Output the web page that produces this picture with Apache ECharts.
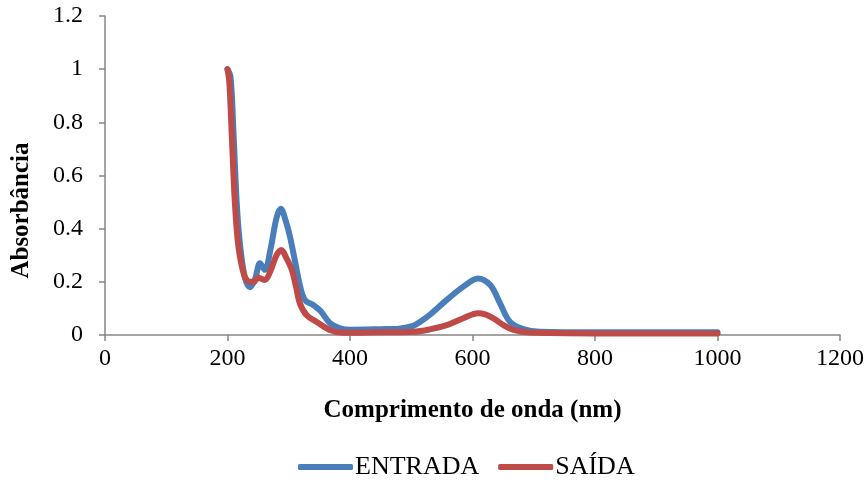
<!DOCTYPE html>
<html>
<head>
<meta charset="utf-8">
<script src="https://cdn.jsdelivr.net/npm/echarts@6/dist/echarts.min.js"></script>
<style>
  html, body { margin: 0; padding: 0; background: #fff; }
  #chart { width: 867px; height: 483px; }
</style>
</head>
<body>
<div id="chart"></div>
<script>
// comprimento de onda (nm) e absorbancia
var entradaX = [200, 205, 210, 215, 220, 228, 237, 245, 253, 261, 270, 280, 287, 295, 302, 310, 320, 327, 340, 352, 367, 384, 400, 450, 480, 503, 516, 531, 558, 585, 609, 629, 645, 661, 683, 710, 800, 900, 1000];
var entradaY = [1.0, 0.97, 0.75, 0.5, 0.35, 0.22, 0.18, 0.21, 0.27, 0.245, 0.32, 0.44, 0.475, 0.43, 0.37, 0.28, 0.17, 0.13, 0.113, 0.09, 0.045, 0.025, 0.02, 0.022, 0.024, 0.034, 0.052, 0.077, 0.132, 0.182, 0.213, 0.188, 0.119, 0.05, 0.022, 0.012, 0.01, 0.01, 0.01];

var saidaX = [200, 203, 207, 212, 218, 228, 237, 243, 250, 261, 270, 280, 288, 296, 305, 312, 318, 329, 345, 367, 389, 450, 503, 530, 558, 585, 609, 622, 634, 650, 667, 694, 800, 1000];
var saidaY = [1.0, 0.95, 0.75, 0.5, 0.33, 0.22, 0.2, 0.2, 0.215, 0.207, 0.24, 0.3, 0.32, 0.29, 0.245, 0.18, 0.12, 0.075, 0.05, 0.019, 0.008, 0.01, 0.012, 0.021, 0.037, 0.063, 0.082, 0.077, 0.063, 0.038, 0.019, 0.009, 0.006, 0.006];

var seriesNames = ['ENTRADA', 'SAÍDA'];

function pares(xs, ys) {
    var out = [];
    for (var i = 0; i < xs.length; i++) {
        out.push([xs[i], ys[i]]);
    }
    return out;
}

var fonte = '"Liberation Serif", "Times New Roman", serif';
var chart = echarts.init(document.getElementById('chart'));

var option = {
    animation: false,
    textStyle: { fontFamily: fonte },
    color: ['#4a7ebb', '#be4b48'],
    grid: { left: 105, right: 27, top: 16, bottom: 148, containLabel: false },
    xAxis: {
        type: 'value',
        min: 0, max: 1200, interval: 200,
        name: 'Comprimento de onda (nm)',
        nameLocation: 'middle',
        nameGap: 63,
        nameTextStyle: { fontFamily: fonte, fontSize: 25, fontWeight: 'bold', color: '#000' },
        axisLine: { onZero: false, lineStyle: { color: '#868686', width: 1.5 } },
        axisTick: { show: true, inside: false, length: 6, lineStyle: { color: '#868686', width: 1.5 } },
        axisLabel: {
            fontFamily: fonte, fontSize: 24, color: '#000', margin: 12,
            formatter: function (v) { return String(v); }
        },
        splitLine: { show: false }
    },
    yAxis: {
        type: 'value',
        min: 0, max: 1.2, interval: 0.2,
        name: 'Absorbância',
        nameLocation: 'middle',
        nameGap: 71,
        nameTextStyle: { fontFamily: fonte, fontSize: 25, fontWeight: 'bold', color: '#000', padding: [0, 70, 0, 0] },
        axisLine: { show: true, lineStyle: { color: '#868686', width: 1.5 } },
        axisTick: { show: true, inside: false, length: 6, lineStyle: { color: '#868686', width: 1.5 } },
        axisLabel: {
            fontFamily: fonte, fontSize: 24, color: '#000', margin: 22,
            formatter: function (v) { return String(Math.round(v * 10) / 10); }
        },
        splitLine: { show: false }
    },
    legend: {
        data: seriesNames,
        icon: 'roundRect',
        left: 293,
        top: 449,
        itemWidth: 55,
        itemHeight: 6,
        itemGap: 19,
        textStyle: { fontFamily: fonte, fontSize: 26, color: '#000', padding: [0, 0, 0, -3] }
    },
    series: [
        {
            name: seriesNames[0],
            type: 'line',
            data: pares(entradaX, entradaY),
            smooth: 0.35,
            symbol: 'none',
            lineStyle: { width: 6, cap: 'round', join: 'round' }
        },
        {
            name: seriesNames[1],
            type: 'line',
            data: pares(saidaX, saidaY),
            smooth: 0.35,
            symbol: 'none',
            lineStyle: { width: 6, cap: 'round', join: 'round' }
        }
    ]
};
chart.setOption(option);
</script>
</body>
</html>
